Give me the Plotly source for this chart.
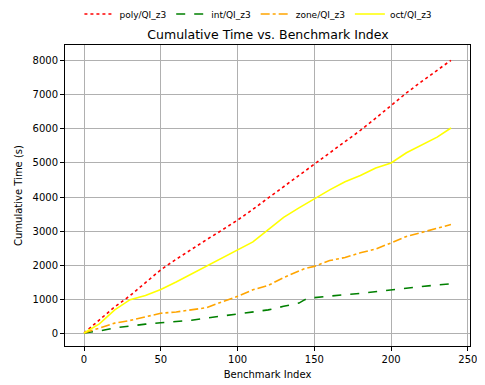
import plotly.graph_objects as go

idx = [0, 10, 20, 30, 40, 50, 60, 70, 80, 90, 100, 110, 120, 130, 140, 143, 146, 150,
       160, 170, 180, 190, 200, 210, 220, 230, 239]
poly = [0, 380, 770, 1100, 1490, 1860, 2170, 2470, 2750, 3030, 3320, 3640, 3970, 4290, 4620, 4720, 4820, 4950,
        5280, 5620, 5960, 6320, 6700, 7060, 7400, 7730, 8020]
oct_ = [0, 270, 680, 980, 1100, 1280, 1500, 1740, 1960, 2200, 2460, 2680, 3040, 3400, 3680, 3760, 3850, 3960,
        4210, 4450, 4630, 4850, 5000, 5300, 5540, 5760, 6030]
zone = [0, 140, 290, 370, 480, 580, 620, 690, 745, 920, 1080, 1270, 1400, 1630, 1840, 1880, 1920, 1960,
        2130, 2220, 2360, 2470, 2650, 2840, 2960, 3080, 3190]
intv = [0, 60, 150, 215, 260, 300, 335, 375, 440, 500, 570, 630, 680, 785, 880, 960, 1030, 1040,
        1090, 1130, 1165, 1220, 1275, 1330, 1370, 1410, 1450]

names = ["poly/QI_z3", "int/QI_z3", "zone/QI_z3", "oct/QI_z3"]
series = [poly, intv, zone, oct_]
colors = ["#ff0000", "#008000", "#ffa500", "#ffff00"]
dashes = ["dot", "dash", "dashdot", "solid"]
xticks = [0, 50, 100, 150, 200, 250]
yticks = [0, 1000, 2000, 3000, 4000, 5000, 6000, 7000, 8000]

fig = go.Figure()
for n, s, c, d in zip(names, series, colors, dashes):
    fig.add_trace(go.Scatter(x=idx, y=s, mode="lines", name=n,
                             line=dict(color=c, dash=d, width=1.6)))

# page has an 8px body margin: figure drawn at 477x377
W, H = 477, 377
font = "DejaVu Sans"
axis_common = dict(showline=True, linecolor="black", linewidth=1, mirror=True,
                   ticks="outside", ticklen=4, tickcolor="black", automargin=False,
                   showgrid=True, gridcolor="#b0b0b0", gridwidth=1, zeroline=False,
                   tickfont=dict(family=font, size=10, color="black"))
fig.update_layout(
    width=W, height=H,
    margin=dict(l=57, r=15, t=37, b=39, pad=0, autoexpand=False),
    paper_bgcolor="white", plot_bgcolor="white",
    title=dict(text="Cumulative Time vs. Benchmark Index", x=260 / W, xanchor="center",
               yref="container", y=1 - 27 / H, yanchor="middle", automargin=False,
               font=dict(family=font, size=12.5, color="black")),
    legend=dict(orientation="h", xref="container", x=0.525, xanchor="center",
                yref="container", y=1 - 6 / H, yanchor="middle",
                font=dict(family=font, size=9, color="black"), bgcolor="rgba(0,0,0,0)",
                itemwidth=30),
    xaxis=dict(range=[-12.4, 251.4], tickvals=xticks,
               title=dict(text="Benchmark Index", font=dict(family=font, size=10, color="black"), standoff=6),
               **axis_common),
    yaxis=dict(range=[-382, 8470], tickvals=yticks,
               title=dict(text="Cumulative Time (s)", font=dict(family=font, size=10, color="black"), standoff=8),
               **axis_common),
)
fig.write_html("out.html")
